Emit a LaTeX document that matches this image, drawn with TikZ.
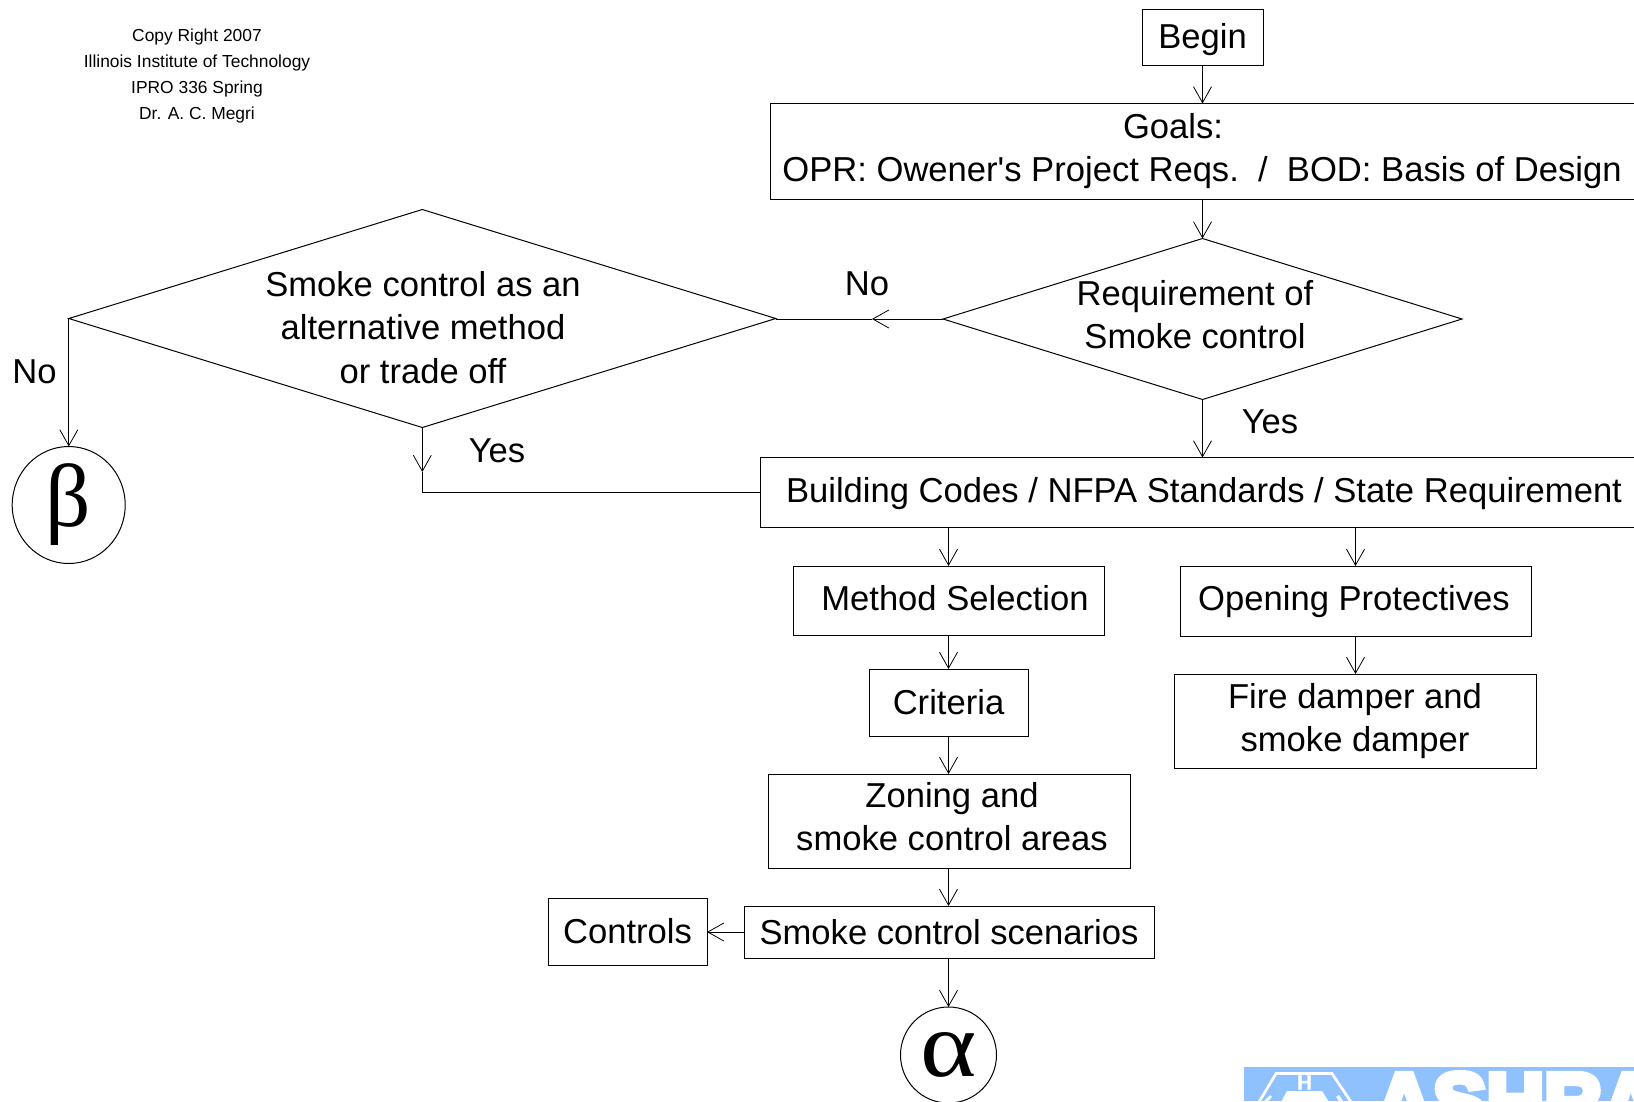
\documentclass[tikz,border=0pt]{standalone}
\usepackage{fontspec}
\usepackage{graphicx}
\setmainfont{Liberation Sans}
\newfontfamily\greekserif{Liberation Serif}
\newfontfamily\logofont[BoldFeatures={FakeBold=8}]{Liberation Sans}
\newfontfamily\logosmall[BoldFeatures={FakeBold=2}]{Liberation Sans}
\usetikzlibrary{arrows.meta,shapes.geometric}
\definecolor{logoblue}{HTML}{8FC1FF}
\tikzset{
  x=0.75pt,y=-0.75pt,
  flowline/.style={line width=0.75pt,draw=black},
  arr/.style={flowline,-{Straight Barb[length=12pt,width=13.5pt,line width=0.6pt]}},
  boxst/.style={draw=black,line width=0.75pt,inner sep=0pt,outer sep=0pt,align=center,font=\flowfont},
  decision/.style={diamond,draw=black,line width=0.75pt,inner sep=0pt,outer sep=0pt},
  conn/.style={ellipse,draw=black,line width=0.75pt,inner sep=0pt,outer sep=0pt},
  lab/.style={inner sep=0pt,outer sep=0pt,align=center,font=\flowfont},
  credit/.style={inner sep=0pt,outer sep=0pt,align=center,font=\creditfont},
}
\newcommand{\flowfont}{\fontsize{25.95}{32.4}\selectfont}
\newcommand{\creditfont}{\fontsize{13.05}{19.3}\selectfont}
\newcommand{\bx}[6]{\node[boxst,minimum width={(#4-#2)*0.75pt},minimum height={(#5-#3)*0.75pt}] (#1) at ({(#2+#4)/2},{(#3+#5)/2}) {#6};}
\begin{document}
\begin{tikzpicture}
\useasboundingbox (0,0) rectangle (1634,1101);
% logo
\begin{scope}
\clip (1244,1067) rectangle (1634,1101);
\fill[logoblue] (1244,1067) rectangle (1634,1101);
\draw[white,line width=2pt] (1259,1102) -- (1276,1073.5) -- (1332,1073.5) -- (1351,1102);
\node[anchor=center,inner sep=0pt,text=white,font=\fontsize{15}{15}\selectfont\logosmall\bfseries] (logoh) at (1304.5,1082.5) {H};
\fill[white] (1287,1091) -- (1322,1091) -- (1329,1102) -- (1281,1102) -- cycle;
\fill[white] (1264,1101) -- (1270,1095) -- (1272,1097) -- (1268,1101) -- cycle;
\fill[white] (1336,1097) -- (1339,1095) -- (1343,1101) -- (1339,1101) -- cycle;
\node[anchor=base west,inner sep=0pt,text=white,font=\fontsize{60}{60}\selectfont\logofont\bfseries] (logotext) at (1375,1129) {ASHRA};
\end{scope}
% credits
\node[credit] (credit) at (197,76) {Copy Right 2007\\Illinois Institute of Technology\\IPRO 336 Spring\\Dr. A. C. Megri};
% boxes
\bx{begin}{1142}{9.5}{1263}{65.5}{}
\node[lab] (begintext) at (1202.5,39.5) {Begin};
\bx{goals}{770}{103.5}{1650}{199.5}{}
\node[lab] (goalsa) at (1173,126) {Goals:};
\node[lab] (goalsb) at (1202,173) {OPR: Owener\textquotesingle s Project Reqs.~~/~~BOD: Basis of Design};
\bx{codes}{760}{457.5}{1650}{527}{}
\node[lab] (codestext) at (1204,493.5) {Building Codes / NFPA Standards / State Requirement};
\bx{method}{793}{566}{1104}{635}{}
\node[lab] (methodtext) at (955,598.5) {Method Selection};
\bx{opening}{1180}{566}{1531}{636}{}
\node[lab] (openingtext) at (1354,602) {Opening Protectives};
\bx{fire}{1174}{674}{1536}{768}{Fire damper and\\smoke damper}
\bx{criteria}{869}{669}{1028}{736}{Criteria}
\bx{zoning}{768}{774}{1130}{868}{}
\node[lab] (zoningtext) at (952,816.5) {Zoning and\\smoke control areas};
\bx{scen}{744}{906}{1154}{958}{Smoke control scenarios}
\bx{controls}{548}{898}{707}{965}{Controls}
% decisions
\node[decision,minimum width={519*0.75pt},minimum height={161*0.75pt}] (req) at (1202.5,319) {};
\node[lab] (reqtext) at (1195,315) {Requirement of\\Smoke control};
\node[decision,minimum width={707*0.75pt},minimum height={218*0.75pt}] (alt) at (422.3,318.5) {};
\node[lab] (alttext) at (423,327.5) {Smoke control as an\\alternative method\\or trade off};
% connectors' ends
\node[conn,minimum width={113*0.75pt},minimum height={117*0.75pt}] (beta) at (68.7,505) {\fontsize{67}{67}\selectfont\greekserif β};
\node[conn,minimum width={96*0.75pt},minimum height={96*0.75pt}] (alpha) at (948.5,1055) {\scalebox{1.22}[1.06]{\fontsize{66}{66}\selectfont\greekserif α}};
% labels
\node[lab] (nob) at (867,283.5) {No};
\node[lab] (noa) at (34.5,371.5) {No};
\node[lab] (yesa) at (1270,421.5) {Yes};
\node[lab] (yesb) at (497,450.5) {Yes};
% connectors
\draw[arr] (begin.south) -- (begin.south |- goals.north);
\draw[arr] (begin.south |- goals.south) -- (req.north);
\draw[arr] (req.south) -- (req.south |- codes.north);
\coordinate (nohead) at (872,319);
\draw[arr] (req.west) -- (nohead);
\draw[flowline] (nohead) -- (req.west -| alt.east);
\draw[arr] (alt.west) -- (alt.west |- beta.north);
\coordinate (yeshead) at (423,472);
\draw[arr] (alt.south) -- (alt.south |- yeshead);
\draw[flowline] (alt.south |- yeshead) -- (alt.south |- codes.west) -- (codes.west);
\draw[arr] (method.north |- codes.south) -- (method.north);
\draw[arr] (opening.north |- codes.south) -- (opening.north);
\draw[arr] (opening.south) -- (opening.south |- fire.north);
\draw[arr] (method.south) -- (method.south |- criteria.north);
\draw[arr] (method.south |- criteria.south) -- (method.south |- zoning.north);
\draw[arr] (method.south |- zoning.south) -- (method.south |- scen.north);
\draw[arr] (scen.west) -- (scen.west -| controls.east);
\draw[arr] (method.south |- scen.south) -- (method.south |- alpha.north);
\end{tikzpicture}
\end{document}
